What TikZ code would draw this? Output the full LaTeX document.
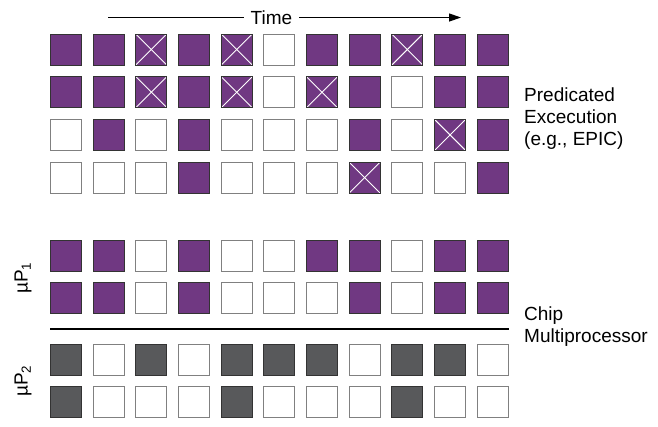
\documentclass[tikz,border=0pt]{standalone}
\usepackage{fontspec}
\setmainfont{Liberation Sans}
\usepackage{xcolor}
\usepackage{tikz}
\usetikzlibrary{arrows.meta}
\definecolor{slotpurple}{RGB}{112,56,130}
\definecolor{slotgray}{RGB}{88,89,91}

\begin{document}
\begin{tikzpicture}[x=1pt, y=-1pt,
  sq/.style={draw=black!80, line width=0.9pt, minimum size=31pt, inner sep=0pt},
  slotO/.style={sq, draw=black!50, fill=white},
  slotP/.style={sq, fill=slotpurple},
  slotG/.style={sq, fill=slotgray},
  slotX/.style={slotP, path picture={
      \draw[white, line width=0.9pt] (path picture bounding box.north west) -- (path picture bounding box.south east);
      \draw[white, line width=0.9pt] (path picture bounding box.south west) -- (path picture bounding box.north east);}},
  lbl/.style={font=\fontsize{19}{22}\selectfont, align=left, inner sep=0pt},
  >={Stealth[length=12pt, width=8pt, inset=0pt]}]
\useasboundingbox (0,0) rectangle (658,426);
% time axis
\node[lbl, inner sep=7pt] (time) at (271.5,17.5) {Time};
\coordinate (tstart) at (108,17.5);
\coordinate (tend) at (461,17.5);
\draw[line width=1.2pt] (tstart) -- (time);
\draw[->, line width=1.2pt] (time) -- (tend);
% issue slots
\foreach \r/\yy/\row in {
    1/49.5/{P,P,X,P,X,O,P,P,X,P,P},
    2/92.2/{P,P,X,P,X,O,X,P,O,P,P},
    3/134.9/{O,P,O,P,O,O,O,P,O,X,P},
    4/177.6/{O,O,O,P,O,O,O,X,O,O,P},
    5/255.5/{P,P,O,P,O,O,P,P,O,P,P},
    6/298/{P,P,O,P,O,O,O,P,O,P,P},
    7/359.5/{G,O,G,O,G,G,G,O,G,G,O},
    8/402/{G,O,O,O,G,O,O,O,G,O,O}}
  \foreach \t [count=\c] in \row
    \node[slot\t] (r\r c\c) at ({66+42.67*(\c-1)},\yy) {};
% separator between processors
\coordinate (sepl) at (50,329);
\coordinate (sepr) at (509,329);
\draw[line width=2pt] (sepl) -- (sepr);
% labels
\node[lbl, anchor=north west] (pred) at (524,88) {Predicated\\Excecution\\(e.g., EPIC)};
\node[lbl, anchor=north west] (cmp) at (524,307) {Chip\\Multiprocessor};
\node[lbl, rotate=90] (up1) at (23,278) {µP\textsubscript{1}};
\node[lbl, rotate=90] (up2) at (23,381) {µP\textsubscript{2}};
\end{tikzpicture}
\end{document}
